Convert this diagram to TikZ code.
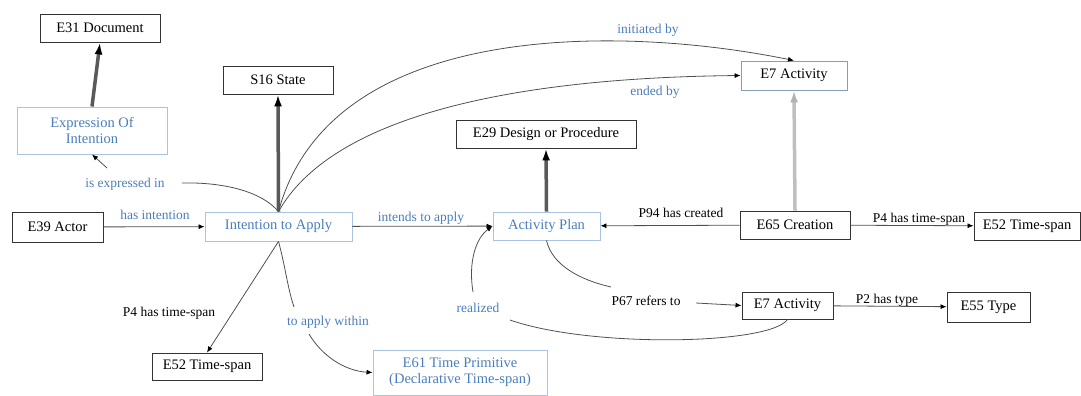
\documentclass[tikz,border=0pt]{standalone}
\usepackage{fontspec}
\setmainfont{LiberationSerif}[Extension=.ttf, UprightFont=*-Regular, BoldFont=*-Bold]
\usetikzlibrary{arrows.meta}
\definecolor{lblue}{HTML}{4A7EBB}
\definecolor{bborder}{HTML}{A8C4E2}
\definecolor{edgec}{HTML}{505050}
\tikzset{
  box/.style={draw=black!80, line width=0.9pt, inner sep=0pt, text=black, font=\fontsize{14.5}{16}\selectfont},
  bbox/.style={draw=bborder, line width=0.9pt, inner sep=0pt, text=lblue, align=center, font=\fontsize{14.5}{16}\selectfont},
  ebox/.style={draw=bborder!80!black, line width=0.9pt, inner sep=0pt, text=black, font=\fontsize{14.5}{16}\selectfont},
  lbl/.style={font=\fontsize{13.5}{15}\selectfont, text=black, inner sep=1pt},
  blbl/.style={lbl, text=lblue},
  arr/.style={draw=edgec, line width=0.8pt, -{Latex[length=6pt,width=5pt,color=black]}},
  heavy/.style={draw=black!65, line width=3.5pt, -{Latex[length=12pt,width=8pt,color=black]}},
  heavyg/.style={draw=black!25, line width=3.5pt, -{Latex[length=12pt,width=8pt,color=black!30]}}
}
\begin{document}
\begin{tikzpicture}[x=1pt,y=-1pt]
\useasboundingbox (0,0) rectangle (1081,396);
% nodes
\node[box, minimum width=120pt, minimum height=28pt] (e31) at (100,28) {E31 Document};
\node[box, minimum width=110pt, minimum height=28pt] (s16) at (278,80) {S16 State};
\node[bbox, minimum width=150pt, minimum height=47pt] (eoi) at (92,130.5) {Expression Of\\Intention};
\node[box, minimum width=91pt, minimum height=30pt] (e39) at (57.5,227) {E39 Actor};
\node[bbox, minimum width=147pt, minimum height=29pt] (ita) at (278.5,226.5) {Intention to Apply};
\node[box, minimum width=180pt, minimum height=28pt] (e29) at (546,134) {E29 Design or Procedure};
\node[ebox, minimum width=106pt, minimum height=29pt] (e7a) at (794,75.5) {E7 Activity};
\node[bbox, minimum width=107pt, minimum height=28pt] (ap) at (546.5,226) {Activity Plan};
\node[box, minimum width=110pt, minimum height=28pt] (e65) at (795,225) {E65 Creation};
\node[box, minimum width=106pt, minimum height=28pt] (e52r) at (1027,226) {E52 Time-span};
\node[box, minimum width=91pt, minimum height=27pt] (e7b) at (787.5,305.5) {E7 Activity};
\node[box, minimum width=83pt, minimum height=30pt] (e55) at (988.5,307) {E55 Type};
\node[box, minimum width=110pt, minimum height=27pt] (e52l) at (207,366.5) {E52 Time-span};
\node[bbox, minimum width=174pt, minimum height=45pt] (e61) at (460,372.5) {E61 Time Primitive\\(Declarative Time-span)};
% heavy arrows
\draw[heavy] (eoi.north) -- (e31.south);
\draw[heavy] (ita.north) -- (s16.south);
\draw[heavy] (ap.north) -- (e29.south);
\draw[heavyg] (e65.north) -- (e7a.south);
% connectors
\draw[arr] (e39) -- (ita) node[blbl] at (155,215) {has intention};
\draw[arr] (ita.north) .. controls (330,20) and (620,25) .. (e7a.north) node[blbl] at (648,30) {initiated by};
\draw[arr] (ita.north) .. controls (330,120) and (500,78) .. (e7a.west) node[blbl] at (655,92) {ended by};
\draw[arr] (ita.north) .. controls (262,192) and (225,182) .. (182,183) node[blbl] at (125,184) {is expressed in} (107,168) -- (eoi.south);
\draw[arr] (ita.south) .. controls (285,265) and (288,290) .. (294,307) node[blbl] at (328,322) {to apply within} (309,334) .. controls (322,356) and (345,371) .. (e61.west);
\draw[arr] (ita.south) -- (e52l.north) node[lbl] at (169,313) {P4 has time-span};
\draw[arr] (ita) -- (ap) node[blbl] at (421,218) {intends to apply};
\draw[arr] (e65) -- (ap) node[lbl] at (681,213) {P94 has created};
\draw[arr] (e65) -- (e52r) node[lbl] at (919,219) {P4 has time-span};
\draw[arr] (e7b) -- (e55) node[lbl] at (887,300) {P2 has type};
\draw[arr] (ap.south) .. controls (552,265) and (580,280) .. (611,287) node[lbl] at (646,301) {P67 refers to} (696,303) -- (e7b.west);
\draw[arr] (e7b.south) .. controls (770,345) and (590,348) .. (510,320) node[blbl] at (478,308) {realized} (473,292) .. controls (468,262) and (476,238) .. (ap.west);
\end{tikzpicture}
\end{document}
